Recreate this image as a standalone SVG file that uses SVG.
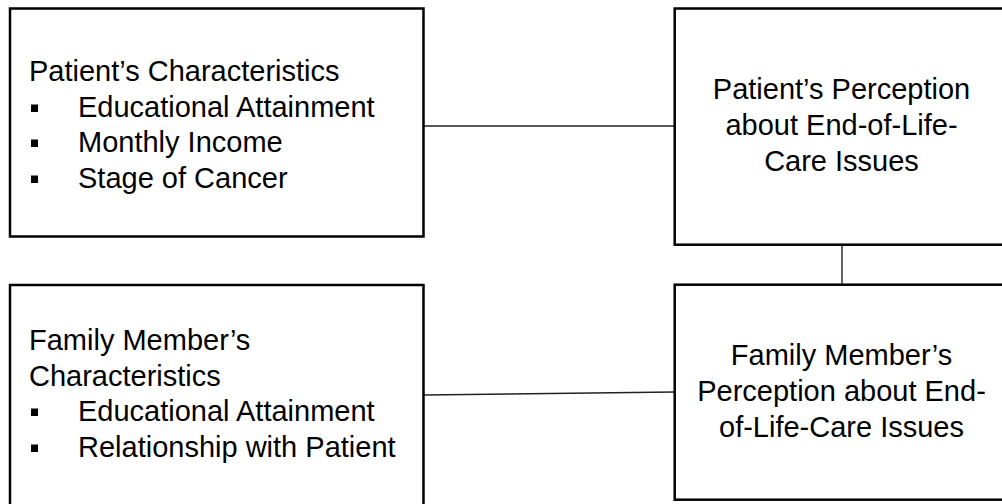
<svg xmlns="http://www.w3.org/2000/svg" width="1002" height="504" viewBox="0 0 1002 504">
<style>
.box{fill:#fff;stroke:#000;stroke-width:2.5}
.t{font-family:"Liberation Sans",Arial,sans-serif;font-size:29px;fill:#000}
.c{text-anchor:middle}
.bul{fill:#000}
.conn{stroke:#222;stroke-width:1.4;fill:none}
</style>
<rect width="1002" height="504" fill="#fff"/>
<g id="connectors">
<line class="conn" x1="423.5" y1="126" x2="674.7" y2="126"/>
<line class="conn" x1="842" y1="244.7" x2="842" y2="284.7"/>
<line class="conn" x1="423.5" y1="395" x2="674.7" y2="392"/>
</g>
<g id="patient-characteristics">
<rect class="box" x="10" y="8.5" width="413.5" height="228"/>
<text class="t" x="29" y="81">Patient’s Characteristics</text>
<rect class="bul" x="31" y="104.5" width="7" height="7.5"/>
<text class="t" x="78" y="117">Educational Attainment</text>
<rect class="bul" x="31" y="139.5" width="7" height="7.5"/>
<text class="t" x="78" y="152">Monthly Income</text>
<rect class="bul" x="31" y="175.5" width="7" height="7.5"/>
<text class="t" x="78" y="188">Stage of Cancer</text>
</g>
<g id="family-characteristics">
<rect class="box" x="10" y="285" width="413.5" height="230"/>
<text class="t" x="29" y="350">Family Member’s</text>
<text class="t" x="29" y="386">Characteristics</text>
<rect class="bul" x="31" y="408.5" width="7" height="7.5"/>
<text class="t" x="78" y="421">Educational Attainment</text>
<rect class="bul" x="31" y="444.5" width="7" height="7.5"/>
<text class="t" x="78" y="457">Relationship with Patient</text>
</g>
<g id="patient-perception">
<rect class="box" x="674.7" y="8.5" width="340" height="236.2"/>
<text class="t c" x="841.5" y="99">Patient’s Perception</text>
<text class="t c" x="841.5" y="135">about End-of-Life-</text>
<text class="t c" x="841.5" y="171">Care Issues</text>
</g>
<g id="family-perception">
<rect class="box" x="674.7" y="284.7" width="340" height="215"/>
<text class="t c" x="841.5" y="365">Family Member’s</text>
<text class="t c" x="841.5" y="401">Perception about End-</text>
<text class="t c" x="841.5" y="437">of-Life-Care Issues</text>
</g>
</svg>
